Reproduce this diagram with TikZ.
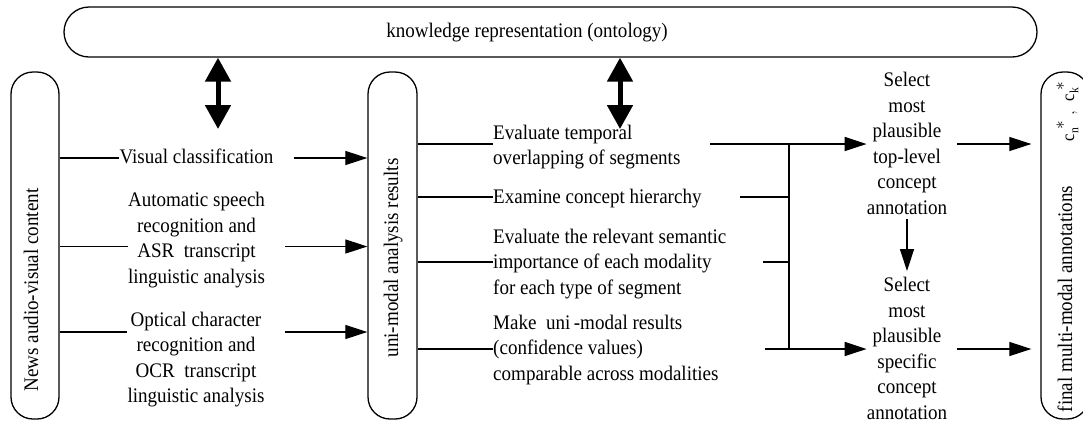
\documentclass[tikz,border=0pt]{standalone}
\usepackage{fontspec}
\setmainfont{Liberation Serif}[FakeStretch=0.92]
\usetikzlibrary{arrows.meta,calc}
\begin{document}
\begin{tikzpicture}[x=1pt,y=1pt,
        box/.style={draw,line width=1.3pt,inner sep=0pt},
        vbox/.style={box,minimum width=48pt,minimum height=347pt,rounded corners=22pt},
        txt/.style={inner sep=0pt,align=center,font=\fontsize{20.7}{25.6}\selectfont},
        ltxt/.style={txt,align=left,anchor=west},
        vtxt/.style={txt,rotate=90,anchor=base},
        ln/.style={line width=1.2pt},
        fat/.style={line width=1.8pt},
        arr/.style={-{Triangle[width=14pt,length=22pt]}},
        dblarr/.style={line width=5pt,{Triangle[width=25pt,length=24pt]}-{Triangle[width=25pt,length=24pt]}}]
\useasboundingbox (0,0) rectangle (1083,-424);
        \node[box,minimum width=973pt,minimum height=50pt,rounded corners=25pt] (kr) at (550.5,-32) {};
        \node[txt] (krtxt) at (527,-33) {knowledge representation (ontology)};
        \node[vbox] (news) at (35,-245.5) {};
        \node[vbox,minimum width=49pt] (uni) at (392.5,-245.5) {};
        \node[vbox] (fin) at (1065,-245.5) {};
        \node[vtxt] (newstxt) at (38,-290) {News audio-visual content};
        \node[vtxt] (unitxt) at (398,-258) {uni-modal analysis results};
        \node[vtxt] (fintxt) at (1072,-299) {final multi-modal annotations};
        \node[vtxt,font=\fontsize{18}{20}\selectfont] (cstar) at (1074,-111) {$\mathrm{c}_{\mathrm{n}}^{\;\raisebox{3pt}{$\mathrm{*}$}}\;\mathrm{,}\;\;\mathrm{c}_{\mathrm{k}}^{\;\raisebox{3pt}{$\mathrm{*}$}}$};

        \coordinate (ka) at (218,-129);
        \coordinate (kb) at (620,-129);
        \draw[dblarr] (kr.south -| ka) -- (ka);
        \draw[dblarr] (kr.south -| kb) -- (kb);

        \coordinate (ra) at (0,-158);
        \coordinate (rb) at (0,-246.5);
        \coordinate (rc) at (0,-332);
        \node[txt] (vis) at (196.5,-156) {Visual classification};
        \node[txt] (asr) at (196.5,-240) {Automatic speech\\recognition and\\ASR\ \ transcript\\linguistic analysis};
        \node[txt] (ocr) at (196,-359.5) {Optical character\\recognition and\\OCR\ \ transcript\\linguistic analysis};
        \foreach \t/\r in {vis/ra,asr/rb,ocr/rc} {
                \draw[ln] (news.east |- \r) -- (\t.west |- \r);
                \draw[ln,arr] ($(\t.east |- \r)+(20,0)$) -- (uni.west |- \r);
        }

        \node[ltxt] (tmp) at (493,-147) {Evaluate temporal\\overlapping of segments};
        \node[ltxt] (hier) at (493,-199) {Examine concept hierarchy};
        \node[ltxt] (sem) at (493,-264) {Evaluate the relevant semantic\\importance of each modality\\for each type of segment};
        \node[ltxt] (cmp) at (493,-350) {Make\ \ uni\,-modal results\\(confidence values)\\comparable across modalities};

        \coordinate (ja) at (789,-144);
        \coordinate (jb) at (789,-197);
        \coordinate (jc) at (789,-262);
        \coordinate (jd) at (789,-349);
        \coordinate (ea) at (710,-144);
        \coordinate (eb) at (740,-197);
        \coordinate (ec) at (763,-262);
        \coordinate (ed) at (765,-349);
        \foreach \t/\r/\e in {tmp/ja/ea,hier/jb/eb,sem/jc/ec,cmp/jd/ed} {
                \draw[ln] (uni.east |- \r) -- (\t.west |- \r);
                \draw[ln] (\e) -- (\r);
        }
        \draw[fat] (ja) -- (jd);

        \node[txt] (sel1) at (907,-143.5) {Select\\most\\plausible\\top-level\\concept\\annotation};
        \node[txt] (sel2) at (907,-348.5) {Select\\most\\plausible\\specific\\concept\\annotation};
        \draw[fat,arr] (ja) -- (sel1.west |- ja);
        \draw[fat,arr] (jd) -- (sel2.west |- jd);
        \draw[ln,arr,shorten <=4pt,shorten >=6pt] (sel1.south) -- (sel2.north);
        \draw[ln,arr,shorten >=9pt] ($(sel1.east |- ja)+(10,0)$) -- (fin.west |- ja);
        \draw[ln,arr,shorten >=9pt] ($(sel2.east |- jd)+(10,0)$) -- (fin.west |- jd);
\end{tikzpicture}
\end{document}
